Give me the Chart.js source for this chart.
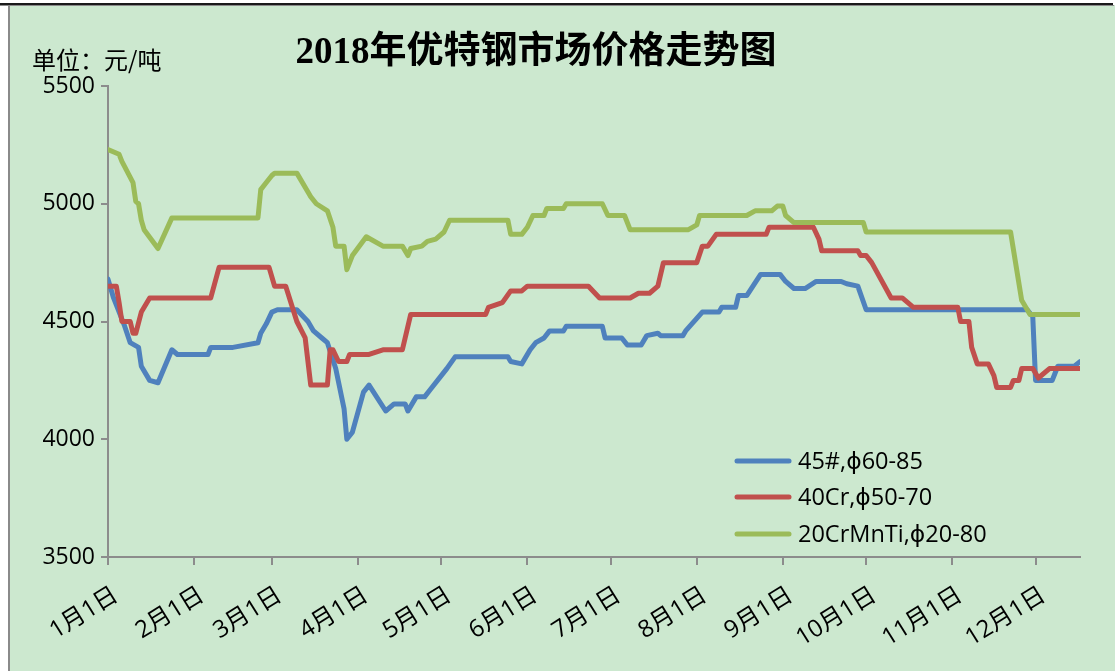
<!DOCTYPE html>
<html>
<head>
<meta charset="utf-8">
<script src="https://cdn.jsdelivr.net/npm/chart.js@4"></script>
<style>
  html, body { margin: 0; padding: 0; background: #fff; }
  #wrap { width: 1115px; height: 671px; }
</style>
</head>
<body>
<div id="wrap"><canvas id="steel-chart" width="1115" height="671"></canvas></div>
<script>
// 月份刻度（距1月1日的天数）
const monthTicks = [0, 31, 59, 90, 120, 151, 181, 212, 243, 273, 304, 334];
const monthLabels = ['1月1日', '2月1日', '3月1日', '4月1日', '5月1日', '6月1日',
                     '7月1日', '8月1日', '9月1日', '10月1日', '11月1日', '12月1日'];
const yTicks = [3500, 4000, 4500, 5000, 5500];

const seriesNames = ['45#,ϕ60-85', '40Cr,ϕ50-70', '20CrMnTi,ϕ20-80'];

// 45#,ϕ60-85
const days45 = [0,2,6,8,11,12,15,18,23,25, 36,37,45,54,55,57,59,61,68,72,
  74,77,79,82,85,86,88,92,94,100, 103,107,108,111,114,116,122,125,144,145,
  149,152,154,157,159,164,165,178,179,185, 187,192,194,198,199,207,208,214,220,221,
  226,227,230,235,242,244,247,251,255,264, 266,270,273,331,333,334,340,342,348,350];
const price45 = [4680,4600,4480,4410,4390,4310,4250,4240,4380,4360, 4360,4390,4390,4410,4450,4490,4540,4550,4550,4500,
  4460,4430,4410,4300,4130,4000,4030,4200,4230,4120, 4150,4150,4120,4180,4180,4210,4300,4350,4350,4330,
  4320,4380,4410,4430,4460,4460,4480,4480,4430,4430, 4400,4400,4440,4450,4440,4440,4460,4540,4540,4560,
  4560,4610,4610,4700,4700,4670,4640,4640,4670,4670, 4660,4650,4550,4550,4520,4250,4250,4310,4310,4330];

// 40Cr,ϕ50-70
const days40Cr = [0,3,4,5,8,9,10,12,15,37, 40,58,60,64,68,71,73,79,80,81,
  83,86,87,94,99,106,109,136,137,142, 145,149,151,173,177,188,191,195,198,200,
  212,214,216,219,237,238,254,256,257,270, 271,273,275,282,286,290,306,307,310,311,
  313,317,319,320,325,326,328,329,333,335, 339,350];
const price40Cr = [4650,4650,4580,4500,4500,4450,4450,4540,4600,4600, 4730,4730,4650,4650,4500,4430,4230,4230,4380,4380,
  4330,4330,4360,4360,4380,4380,4530,4530,4560,4580, 4630,4630,4650,4650,4600,4600,4620,4620,4650,4750,
  4750,4820,4820,4870,4870,4900,4900,4850,4800,4800, 4780,4780,4750,4600,4600,4560,4560,4500,4500,4390,
  4320,4320,4270,4220,4220,4250,4250,4300,4300,4260, 4300,4300];

// 20CrMnTi,ϕ20-80
const days20Cr = [0,4,5,9,10,11,12,13,18,23, 54,55,57,59,60,68,72,73,75,79,
  81,82,85,86,88,93,99,106,108,109, 113,115,118,121,123,144,145,149,151,153,
  157,158,164,165,178,180,186,188,209,212, 213,230,233,239,241,243,244,247,272,273,
  325,329,332,350];
const price20Cr = [5230,5210,5180,5090,5010,5000,4930,4890,4810,4940, 4940,5060,5090,5120,5130,5130,5050,5030,5000,4970,
  4900,4820,4820,4720,4780,4860,4820,4820,4780,4810, 4820,4840,4850,4880,4930,4930,4870,4870,4900,4950,
  4950,4980,4980,5000,5000,4950,4950,4890,4890,4910, 4950,4950,4970,4970,4990,4990,4950,4920,4920,4880,
  4880,4590,4530,4530];

const colors = ['#4F81BD', '#C0504D', '#9BBB59'];
const axisColor = '#8C8C8C';
const sansFont = "'Open Sans', 'Noto Sans CJK SC', sans-serif";

function toPoints(days, vals) {
    return days.map((d, i) => ({ x: d, y: vals[i] }));
}

// 背景、边框、标题、单位和图例
const decorPlugin = {
    id: 'decor',
    beforeDraw(chart) {
        const ctx = chart.ctx;
        ctx.save();
        ctx.fillStyle = '#ffffff';
        ctx.fillRect(0, 0, chart.width, chart.height);
        ctx.fillStyle = '#CCE8CF';
        ctx.fillRect(9, 5, chart.width - 9, chart.height - 5);
        ctx.fillStyle = '#1a1a1a';
        ctx.fillRect(0, 3, chart.width - 2, 2);
        ctx.fillStyle = '#8a8a8a';
        ctx.fillRect(0, 5, chart.width - 1, 1);
        ctx.fillRect(8, 5, 2, chart.height - 5);
        ctx.restore();
    },
    afterDraw(chart) {
        const ctx = chart.ctx;
        ctx.save();
        ctx.fillStyle = '#000';
        ctx.textBaseline = 'middle';
        ctx.textAlign = 'center';
        ctx.font = "bold 37px 'Liberation Serif', 'Noto Sans CJK SC', serif";
        ctx.fillText('2018年优特钢市场价格走势图', 536, 53);
        ctx.textAlign = 'left';
        ctx.font = "24px 'Noto Sans CJK SC', sans-serif";
        ctx.fillText('单位：元/吨', 32, 60);

        const rows = [461, 497, 534];
        ctx.lineCap = 'round';
        ctx.lineWidth = 5;
        ctx.font = "23.5px 'Open Sans', 'DejaVu Sans', sans-serif";
        seriesNames.forEach((name, i) => {
            ctx.strokeStyle = colors[i];
            ctx.beginPath();
            ctx.moveTo(737, rows[i]);
            ctx.lineTo(789, rows[i]);
            ctx.stroke();
            ctx.fillStyle = '#000';
            ctx.fillText(name, 798, rows[i] + 1);
        });
        ctx.restore();
    }
};

const lineStyle = {
    borderWidth: 5,
    pointRadius: 0,
    tension: 0,
    fill: false,
    borderJoinStyle: 'round',
    borderCapStyle: 'round'
};

new Chart(document.getElementById('steel-chart'), {
    type: 'line',
    data: {
        datasets: [
            Object.assign({ label: seriesNames[0], data: toPoints(days45, price45), borderColor: colors[0], order: 3 }, lineStyle),
            Object.assign({ label: seriesNames[1], data: toPoints(days40Cr, price40Cr), borderColor: colors[1], order: 2 }, lineStyle),
            Object.assign({ label: seriesNames[2], data: toPoints(days20Cr, price20Cr), borderColor: colors[2], order: 1 }, lineStyle)
        ]
    },
    options: {
        responsive: false,
        animation: false,
        layout: { padding: { top: 86, right: 35, left: 0, bottom: 0 } },
        plugins: {
            legend: { display: false },
            title: { display: false },
            tooltip: { enabled: false }
        },
        scales: {
            x: {
                type: 'linear',
                min: 0,
                max: 350,
                afterFit: s => { s.height = 114; },
                afterBuildTicks: s => { s.ticks = monthTicks.map(v => ({ value: v })); },
                grid: { display: true, drawOnChartArea: false, drawTicks: true, tickLength: 8, color: axisColor, lineWidth: 2 },
                border: { display: true, color: axisColor, width: 2 },
                ticks: {
                    autoSkip: false,
                    minRotation: 32,
                    maxRotation: 32,
                    padding: 16,
                    labelOffset: 8,
                    color: '#000',
                    font: { family: sansFont, size: 24 },
                    callback: v => monthLabels[monthTicks.indexOf(v)]
                }
            },
            y: {
                min: 3500,
                max: 5500,
                afterFit: s => { s.width = 108; },
                afterBuildTicks: s => { s.ticks = yTicks.map(v => ({ value: v })); },
                grid: { display: true, drawOnChartArea: false, drawTicks: true, tickLength: 7, color: axisColor, lineWidth: 2 },
                border: { display: true, color: axisColor, width: 2 },
                ticks: {
                    padding: 6,
                    color: '#000',
                    font: { family: sansFont, size: 23 },
                    callback: v => String(v)
                }
            }
        }
    },
    plugins: [decorPlugin]
});
</script>
</body>
</html>
